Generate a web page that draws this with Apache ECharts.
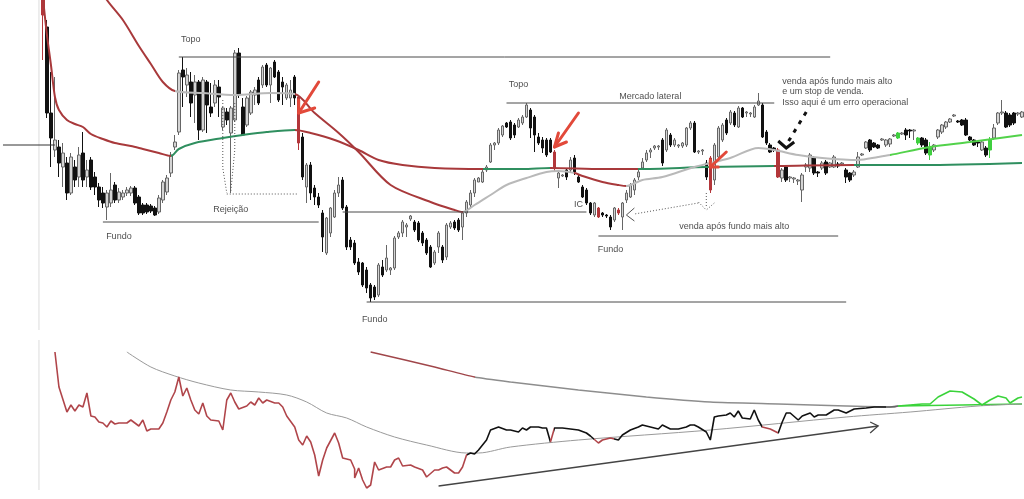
<!DOCTYPE html>
<html><head><meta charset="utf-8">
<script src="https://cdn.jsdelivr.net/npm/echarts@6/dist/echarts.min.js"></script>
<style>html,body{margin:0;padding:0;background:#fff;overflow:hidden}#c{width:1024px;height:499px}</style>
</head><body><div id="c"></div><script>
// ---------- DATA ----------
const lead = 10; // empty bars before the first candle
// [open, close, low, high]
const ohlc = [
[400,385,340,405],[373,287,282,380],[287,262,233,328],[250,260,243,323],[253,237,223,260],[233,247,213,257],[237,207,200,243],[207,243,205,247],[233,220,213,240],[223,245,213,253],
[247,220,213,268],[223,230,213,240],[240,213,210,243],[223,213,205,228],[213,200,193,217],[207,197,192,213],[193,207,180,210],[197,210,193,227],[215,200,197,218],[200,208,197,212],
[203,207,200,210],[207,210,204,213],[207,212,204,214],[212,197,195,214],[203,187,185,205],[195,187,185,197],[195,188,186,197],[194,189,187,196],[192,185,184,194],[188,202,186,205],
[200,218,197,220],[208,222,205,225],[227,245,223,248],[253,258,250,265],[268,327,265,330],[330,323,293,343],[315,325,303,332],[318,297,283,328],[305,318,277,325],[318,270,260,320],
[270,320,268,323],[318,295,267,320],[293,287,283,317],[297,315,293,320],[313,303,283,320],[273,292,270,293],[288,280,275,292],[267,292,207,294],[280,347,278,350],[347,305,302,352],
[293,265,265,302],[275,302,273,304],[287,308,285,310],[305,310,295,313],[320,297,295,323],[315,333,312,335],[335,315,313,337],[315,332,297,333],[338,323,322,340],[328,300,298,330],
[318,313,295,323],[302,315,300,317],[302,310,293,320],[323,302,295,325],[303,257,250,305],[263,223,220,267],[213,235,197,237],[235,207,200,238],[212,203,195,215],[203,195,192,207],
[187,163,148,190],[147,182,145,183],[167,192,163,193],[183,207,182,210],[207,215,203,223],[220,192,190,223],[193,153,150,195],[160,153,150,163],[157,137,135,160],[138,128,125,142],
[137,115,113,138],[130,112,107,133],[115,102,98,117],[113,103,100,115],[105,135,103,137],[133,125,123,140],[130,142,128,155],[130,132,125,133],[132,162,130,164],[163,167,161,169],
[167,178,163,180],[173,175,163,177],[181,184,179,185],[178,170,168,180],[177,160,158,179],[167,157,154,169],[160,147,145,162],[153,133,132,155],[137,148,135,150],[153,167,147,169],
[153,140,137,155],[143,175,140,177],[173,177,171,179],[178,172,170,180],[180,170,168,182],[173,187,160,188],[187,198,183,200],[195,207,193,210],[207,220,203,222],[218,222,218,223],
[218,228,217,230],[230,233,228,235],[238,255,237,257],[255,257,250,258],[257,270,255,272],[265,274,263,275],[277,273,272,278],[278,262,260,280],[275,265,262,277],[273,280,272,282],
[277,283,275,285],[283,295,282,297],[290,272,262,292],[283,265,248,285],[263,257,255,267],[260,252,247,263],[260,245,243,262],[260,248,247,262],[248,232,228,250],[222,227,212,228],
[224,225,223,226],[230,223,220,232],[230,240,227,243],[242,228,225,245],[223,218,217,225],[213,203,202,215],[210,197,195,212],[197,187,185,198],[185,197,183,198],[192,183,182,193],
[187,185,183,188],[185,184,182,186],[183,173,170,185],[180,192,178,193],[190,187,185,192],[183,197,170,198],[200,207,197,210],[203,215,202,217],[210,220,205,222],[223,228,220,230],
[232,238,230,242],[240,247,238,250],[248,250,242,252],[252,254,250,255],[253,254,250,255],[260,237,234,262],[250,270,248,272],[265,255,253,267],[255,260,253,262],[254,255,252,256],
[254,257,252,258],[255,272,253,273],[272,277,270,279],[277,248,247,279],[248,249,246,250],[249,250,245,251],[237,223,220,240],[242,210,207,244],[220,255,215,257],[243,272,242,274],
[260,275,258,277],[280,267,265,282],[277,288,275,290],[287,275,273,289],[273,292,272,294],[292,283,282,293],[287,288,283,289],[286,287,283,288],[283,293,282,295],[295,299,294,307],
[295,263,262,297],[268,257,255,270],[255,248,247,257],[252,250,248,253],[250,223,222,252],[222,230,218,232],[233,220,218,235],[222,223,218,224],[221,222,217,223],[219,220,215,221],
[210,225,198,227],[233,235,228,237],[232,245,228,247],[242,227,225,244],[228,227,223,229],[232,237,230,239],[238,227,225,240],[233,237,232,238],[233,243,232,245],[236,234,232,238],
[236,237,234,238],[230,223,217,232],[227,220,218,228],[225,228,223,230],[233,243,232,248],[245,246,244,247],[252,258,251,259],[260,250,248,261],[257,253,252,258],[255,252,251,256],
[260,261,259,262],[255,260,253,261],[256,261,253,262],[264,265,263,266],[262,267,261,268],[266,267,265,268],[270,265,260,272],[270,269,262,271],[269,270,260,271],[262,257,255,263],
[262,255,253,263],[260,247,245,262],[253,245,240,258],[250,255,248,256],[263,270,261,271],[268,275,266,276],[273,278,271,279],[278,281,277,282],[284,285,283,286],[279,278,277,280],
[280,275,274,281],[280,265,264,282],[263,260,259,264],[260,255,254,261],[258,257,253,259],[250,258,249,259],[252,245,243,254],[250,260,242,263],[262,272,260,276],[277,287,275,288],
[287,288,285,300],[287,273,272,289],[285,275,273,287],[287,277,275,288],[286,287,284,288],[283,288,282,289]
];
const redBars = [0,64,128,139,144,167,184];
const greenBars = [214,219,222,237];

// moving averages: [bar, price]
const fastMA = [[23,420],[26,400],[30,380],[34,354],[37,336],[40,318],[43,309],[50,307],[58,305],[67,307],[73,306],[78,287],[84,267],[89,248],[97,215],[107,198],[113,190],[115,188],[118,195],[122,205],[126,215],[131,222],[136,228],[139,229],[143,227],[145,224],[150,218],[154,215],[156,214],[160,220],[165,223],[173,233],[182,242],[189,252],[193,250],[199,245],[205,242],[214,240],[219,243],[222,245],[232,253],[242,258],[255,265]];
const fastBreaks = [43,73,115,143,156,222];
const fastTrend = ['down','flat','down','flat','down','flat','up'];
const slowMA = [[10,402],[11,365],[12,335],[13,303],[14,290],[16,280],[18,276],[20,273],[22,266],[25,261],[28,257],[32,254],[35,251],[39,247],[42,244],[44,251],[48,257],[55,262],[60,265],[66,268],[73,270],[77,267],[83,260],[89,250],[94,240],[100,235],[108,232],[120,231],[130,231],[137,232],[150,231],[159,231],[176,233],[193,234],[213,235],[230,235],[255,237]];
const slowBreaks = [42,73,120,137,159,193,213];
const slowTrend = ['down','up','down','up','down','up','down','up'];

// lower indicator: [bar, value]
const indicator = [[12.5,138],[14.25,103],[15.75,78],[16.75,85],[17.75,79],[18.75,85],[20,83],[21,97],[22,74],[23,73],[24,68],[25,67],[26,63],[27.25,69],[28.25,66],[29.25,67],[30.5,67],[32,70],[33,67],[33.75,64],[35,70],[36,59],[37.25,61],[38.5,61],[39.75,67],[41,78],[42.25,90],[43,98],[44,113],[45,94],[46,102],[47,90],[48,80],[49,76],[50,87],[51,74],[52.25,70],[53.5,69],[55,60],[56,90],[57,97],[58,88],[59,81],[60.5,84],[61.75,88],[62.75,85],[63.75,92],[65,87],[66,90],[67.5,87],[68.75,87],[70,83],[71.25,74],[72.5,63],[73.5,50],[74.75,45],[75.5,54],[76.75,48],[78,35],[79,14],[80,30],[81.25,42],[83,57],[84.25,47],[85.25,32],[86.5,30],[87.5,21],[88.25,12],[89,22],[90.25,10],[91.25,2],[92.25,5],[93.25,28],[94.25,20],[95.5,23],[96.75,23],[98,30],[99,32],[100.25,24],[101.5,25],[103,23],[104.5,20],[106.25,13],[107.5,20],[109,20],[110,22],[111.25,23],[112.5,17],[113.75,17],[115,23],[116,35],
[116.75,37],[118,36],[119.25,40],[120.5,50],[122.25,60],[124.25,63],[125.5,60],[127.25,60],[128.5,58],[129.75,62],[131,60],[132.25,63],[133.5,63],[134.75,62],[136,62],[137.25,48],[138,62],[139.75,62],[141.75,61],[144,60],[145.5,57],[147.25,54],[148.5,47],[149.75,50],[151.75,52],[153.5,50],[155.25,55],[157.25,60],[159,63],[160.25,65],[161.5,63],[162.75,62],[164,61],[165.25,65],[166.5,61],[169,61],[170.5,63],[171.75,65],[173,65],[174.25,63],[175.5,58],[176.5,50],[178,73],[179.25,74],[180.5,75],[181.75,77],[182.75,73],[183.5,79],[184.75,72],[186.75,71],[188,80],[189,70],[190.25,63],[191.75,61],[193.5,57],[194.75,68],[195.5,77],[196.75,77],[198.5,70],[200.25,74],[201.5,77],[202.75,73],[204,75],[205.5,75],[207.75,80],[209.25,80],[211,77],[213,81],[215.5,82],[218,83],[219.75,83],[222,83],
[224,84],[227.25,85],[229.75,86],[231.75,86],[234,93],[235.5,97],[237.25,99],[239.75,98],[243,91],[244.75,85],[246.5,90],[249,94],[250.5,92],[251.75,87],[254,92],[255.25,93]];
const indBreaks = [116,136.5,138.2,147.5,152.5,189.5,194,220.5,223.5];
const indState = ['below','above','below','above','below','above','below','above','flat','up'];
const signalLine = [[92.25,138],[107.5,123],[117.5,113],[127.25,108],[144,100],[160.5,93],[177.25,88],[194,86],[210.5,84],[223,83],[224,84],[240,85],[255.25,86]];
const signalBreaks = [118,223.5];
const signalState = ['down','flat','up'];
const smoothLine = [[30.5,138],[36.75,123],[42.5,114],[49.25,107],[56.75,100],[64.25,98],[71,95],[76,88],[81,77],[86,72],[91,63],[97.5,53],[106,45],[116,37],[119.25,37],[127.25,43],[144,50],[177.25,60],[210.5,73],[227.25,78],[244,84],[255.25,86]];

// annotations (bar, price)
const levelLines = [
  [[44.25,343],[206.75,343]],
  [[25,178],[78.5,178]],
  [[85,188],[145.5,188]],
  [[90.5,98],[210.5,98]],
  [[126.25,297],[192.5,297]],
  [[148.5,164],[208.5,164]]
];
const priceMarker = [[0,255],[13,255]];
const dottedPaths = [
  [[55.1,300],[54.7,262],[54.9,232],[55.5,207]],
  [[56,206],[73.8,206]],
  [[58,297],[57.6,250],[57,208]],
  [[174.25,197],[158,186]],
  [[174.25,198],[176,190],[177.5,197]],
  [[176,207],[176,193]]
];
const openHead = [[158,192],[155.5,185],[158,179]];
const redArrows = [
  [[79.25,318],[73.75,287]], [[73.75,300],[73.75,287],[77.5,292]],
  [[143.5,287],[138,253]], [[138.5,267],[138,253],[140.5,258]],
  [[180.5,248],[176.75,233]], [[176.5,240],[176.75,233],[178.5,233]]
];
const blackArrowShaft = [[200.5,288],[196,255]];
const blackArrowHead = [[194.25,259],[195.75,252],[198,258]];
const trendArrow = [[[109.25,4],[218.5,64]], [[216.5,68],[218.5,64],[216.5,57]]];
const notes = [
  [47.25,360,'Topo'],[57,190,'Rejeição'],[28.75,163,'Fundo'],[93,80,'Fundo'],
  [128.5,315,'Topo'],[161.75,303,'Mercado lateral'],[144.4,195,'IC'],[152.25,150,'Fundo'],
  [182.5,173,'venda após fundo mais alto']
];
const sideNote = [[195.25,318,'venda após fundo mais alto'],[195.25,308,'e um stop de venda.'],[195.25,297,'Isso aqui é um erro operacional']];

// ---------- CHART ----------
const C = {up:'#d4d4d4', upB:'#666', dn:'#111', red:'#b3363a', green:'#3fcf3f'};
const maCol = {down:'#a8393b', flat:'#b9b9b9', up:'#2f8f5f'};
const fastCol = {down:'#a8393b', flat:'#b9b9b9', up:'#52d24a'};
const indCol = {below:'#b0454a', above:'#111', flat:'#666', up:'#3ad33a'};
const sigCol = {down:'#a0464a', flat:'#8d8d8d', up:'#3ad33a'};

const cats = [];
for (let k = 0; k < lead + ohlc.length; k++) cats.push(String(k));
const candleData = cats.map((_, k) => {
  const i = k - lead;
  if (i < 0) return '-';
  const it = {value: ohlc[i]};
  if (redBars.includes(i)) it.itemStyle = {color:C.red,color0:C.red,borderColor:C.red,borderColor0:C.red};
  if (greenBars.includes(i)) it.itemStyle = {color:C.green,color0:C.green,borderColor:C.green,borderColor0:C.green};
  return it;
});
function pieces(breaks, states, cols){
  return states.map((s, j) => {
    const p = {color: cols[s]};
    if (j > 0) p.gte = breaks[j-1];
    if (j < breaks.length) p.lt = breaks[j];
    return p;
  });
}
const lines = (data, grid, style) => ({
  type:'lines', coordinateSystem:'cartesian2d', xAxisIndex:grid, yAxisIndex:grid, polyline:true,
  silent:true, z:10, data: data.map(c => ({coords:c})),
  lineStyle: Object.assign({opacity:1, curveness:0}, style), symbol:'none'
});
const font = {fontFamily:'Liberation Sans, Arial, sans-serif', fontSize:9, color:'#1a1a1a'};

const option = {
  animation:false,
  backgroundColor:'#fff',
  grid:[{left:1, top:0, width:1024, height:330}, {left:1, top:340, width:1024, height:150}],
  xAxis:[
    {type:'category', data:cats, gridIndex:0, show:false, boundaryGap:true},
    {type:'category', data:cats, gridIndex:1, show:false, boundaryGap:true}
  ],
  yAxis:[
    {type:'value', gridIndex:0, min:70, max:400, show:false},
    {type:'value', gridIndex:1, min:0, max:150, show:false}
  ],
  visualMap:[
    {type:'piecewise', show:false, dimension:0, seriesIndex:1, pieces:pieces(slowBreaks, slowTrend, maCol)},
    {type:'piecewise', show:false, dimension:0, seriesIndex:2, pieces:pieces(fastBreaks, fastTrend, fastCol)},
    {type:'piecewise', show:false, dimension:0, seriesIndex:3, pieces:pieces(signalBreaks, signalState, sigCol)},
    {type:'piecewise', show:false, dimension:0, seriesIndex:5, pieces:pieces(indBreaks, indState, indCol)}
  ],
  series:[
    {type:'candlestick', xAxisIndex:0, yAxisIndex:0, data:candleData, barWidth:3, clip:true,
     itemStyle:{color:C.up, color0:C.dn, borderColor:C.upB, borderColor0:C.dn, borderWidth:1}},
    {type:'line', xAxisIndex:0, yAxisIndex:0, data:slowMA, showSymbol:false, smooth:0.3, clip:true, lineStyle:{width:2}, z:3},
    {type:'line', xAxisIndex:0, yAxisIndex:0, data:fastMA, showSymbol:false, smooth:0.3, clip:true, lineStyle:{width:2}, z:3},
    {type:'line', xAxisIndex:1, yAxisIndex:1, data:signalLine, showSymbol:false, smooth:0.2, lineStyle:{width:1.5}},
    {type:'line', xAxisIndex:1, yAxisIndex:1, data:smoothLine, showSymbol:false, smooth:0.3, lineStyle:{width:1, color:'#9a9a9a'}},
    {type:'line', xAxisIndex:1, yAxisIndex:1, data:indicator, showSymbol:false, lineStyle:{width:1.6}, z:4},
    lines([[[9.25,400],[9.25,70]]], 0, {color:'#dcdcdc', width:1}),
    lines([[[9.25,150],[9.25,0]]], 1, {color:'#dcdcdc', width:1}),
    lines([priceMarker], 0, {color:'#333', width:1}),
    lines(levelLines, 0, {color:'#4a4a4a', width:1}),
    lines(dottedPaths, 0, {color:'#555', width:1, type:[1,2]}),
    lines([openHead], 0, {color:'#555', width:1}),
    lines(redArrows, 0, {color:'#e2493a', width:3, cap:'round', join:'round'}),
    lines([blackArrowShaft], 0, {color:'#111', width:3, type:[4,6]}),
    lines([blackArrowHead], 0, {color:'#111', width:3}),
    lines(trendArrow, 1, {color:'#444', width:1.3}),
    {type:'scatter', xAxisIndex:0, yAxisIndex:0, symbolSize:0, silent:true, z:12,
     data:notes.map(n => ({value:[n[0], n[1]], name:n[2]})),
     label:Object.assign({show:true, position:[0,0], align:'center', verticalAlign:'middle', formatter:'{b}'}, font)},
    {type:'scatter', xAxisIndex:0, yAxisIndex:0, symbolSize:0, silent:true, z:12,
     data:sideNote.map(n => ({value:[n[0], n[1]], name:n[2]})),
     label:Object.assign({show:true, position:[0,0], align:'left', verticalAlign:'middle', formatter:'{b}'}, font)}
  ]
};
const chart = echarts.init(document.getElementById('c'), null, {renderer:'canvas'});
chart.setOption(option);
</script></body></html>
